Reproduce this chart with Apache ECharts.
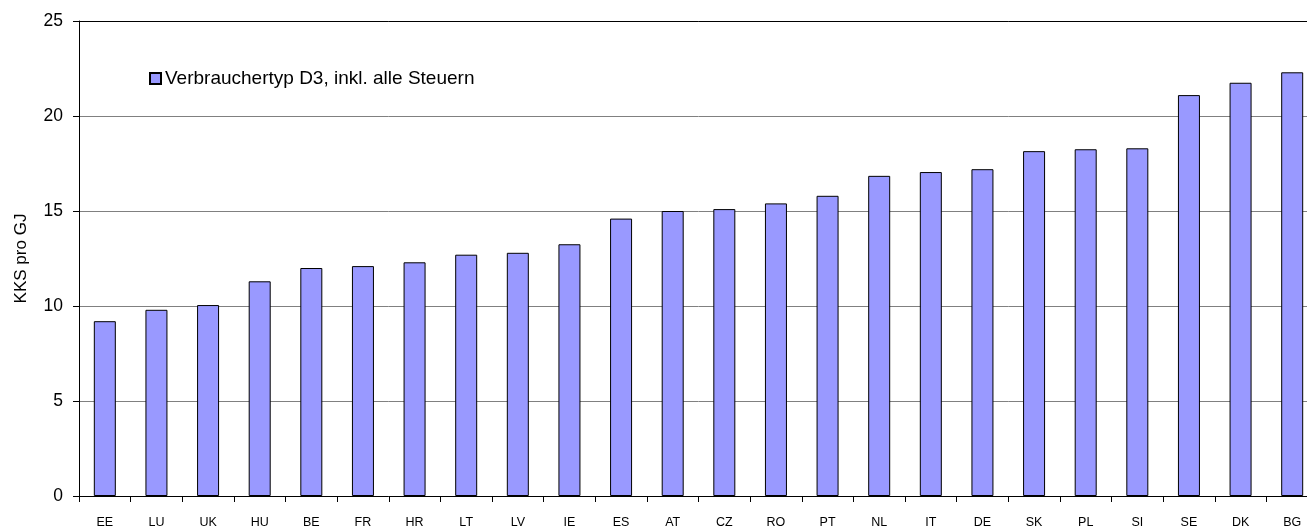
<!DOCTYPE html>
<html>
<head>
<meta charset="utf-8">
<script src="https://cdn.jsdelivr.net/npm/echarts@6/dist/echarts.min.js"></script>
<style>
  html, body { margin: 0; padding: 0; background: #fff; overflow: hidden; }
  /* etwas breiter als das Fenster: die letzte Kategorie wird rechts angeschnitten */
  #chart { width: 1318px; height: 529px; }
</style>
</head>
<body>
<div id="chart"></div>
<script>
// Länder, sortiert nach Preis
const countries = ['EE', 'LU', 'UK', 'HU', 'BE', 'FR', 'HR', 'LT', 'LV', 'IE', 'ES', 'AT', 'CZ',
    'RO', 'PT', 'NL', 'IT', 'DE', 'SK', 'PL', 'SI', 'SE', 'DK', 'BG'];
// KKS pro GJ, Verbrauchertyp D3 inkl. alle Steuern
const prices = [9.2, 9.8, 10.05, 11.3, 12.0, 12.1, 12.3, 12.7, 12.8, 13.25, 14.6, 15.0, 15.1,
    15.4, 15.8, 16.85, 17.05, 17.2, 18.15, 18.25, 18.3, 21.1, 21.75, 22.3];
const seriesName = 'Verbrauchertyp D3, inkl. alle Steuern';
const yTicks = [0, 5, 10, 15, 20, 25];

const font = 'Liberation Sans, Arial, sans-serif';

echarts.init(document.getElementById('chart')).setOption({
    animation: false,
    textStyle: {fontFamily: font},
    grid: {left: 79, right: 0, top: 21, bottom: 31},
    legend: {
        data: [seriesName],
        left: 144, top: 64,
        itemWidth: 11, itemHeight: 11, itemGap: 4,
        icon: 'rect',
        textStyle: {fontSize: 19, color: '#000', fontFamily: font, padding: [0, 0, 0, -1]}
    },
    xAxis: [{
        type: 'category',
        data: countries,
        axisLine: {lineStyle: {color: '#000', width: 1}},
        axisTick: {show: true, alignWithLabel: false, length: 6, lineStyle: {color: '#000'}},
        axisLabel: {color: '#000', fontSize: 12.5, margin: 20, interval: 0}
    }, {
        type: 'category',
        position: 'top',
        data: countries,
        axisLine: {show: true, lineStyle: {color: '#000', width: 1}},
        axisTick: {show: false},
        axisLabel: {show: false}
    }],
    yAxis: {
        type: 'value',
        min: yTicks[0], max: yTicks[yTicks.length - 1], interval: 5,
        name: 'KKS pro GJ',
        nameLocation: 'middle',
        nameGap: 49,
        nameTextStyle: {fontSize: 17, color: '#000'},
        axisLine: {show: true, lineStyle: {color: '#000', width: 1}},
        axisTick: {show: true, length: 6, lineStyle: {color: '#000'}},
        axisLabel: {color: '#000', fontSize: 17.5, margin: 16},
        splitLine: {show: true, lineStyle: {color: '#808080', width: 1}}
    },
    series: [{
        name: seriesName,
        type: 'bar',
        data: prices,
        barWidth: 22,
        itemStyle: {color: '#9999ff', borderColor: '#000', borderWidth: 1}
    }]
});
</script>
</body>
</html>
